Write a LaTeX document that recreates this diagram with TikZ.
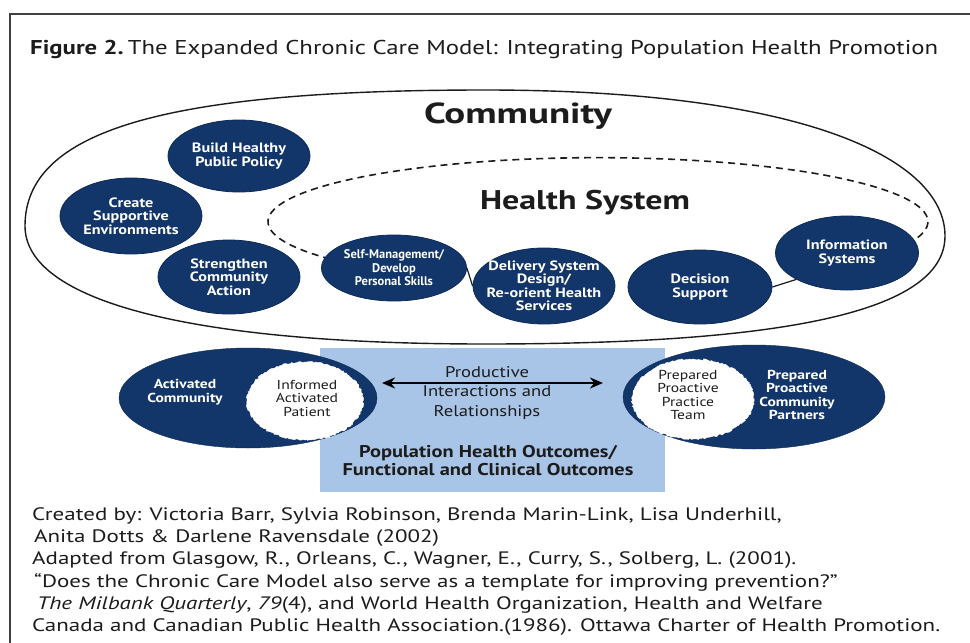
\documentclass[tikz,border=0pt]{standalone}
\usepackage{fontspec}
\usepackage{graphicx}
\setmainfont{PT Sans}
\newfontfamily\wfont[FakeStretch=1.2]{PT Sans}
\usetikzlibrary{shapes.geometric,arrows.meta,decorations.pathmorphing}
\definecolor{navy}{RGB}{18,54,106}
\definecolor{lblue}{RGB}{168,196,230}
\definecolor{ink}{RGB}{28,28,28}
\newcommand{\wline}[2]{\resizebox{#1pt}{\height}{#2}}
\newcommand{\footfont}{\fontsize{18}{22}\selectfont}
\newlength{\lastLineW}
\begin{document}
\settowidth{\lastLineW}{\footfont Canada and Canadian Public Health Association.(1986). Ottawa Charter of Health Promotion.}%
\pgfmathsetmacro{\fsx}{908/\lastLineW}%
\begin{tikzpicture}[x=1pt,y=-1pt,
  hnode/.style={ellipse, fill=navy, draw=navy!80!black, line width=0.8pt, inner sep=0pt},
  ntext/.style={align=center, inner sep=0pt, text=white, font=\wfont\fontsize{13.5}{13.5}\selectfont\bfseries},
  jag/.style={ellipse, fill=white, draw=white, inner sep=0pt, decorate, decoration={random steps, segment length=1.6pt, amplitude=0.9pt}},
  jtext/.style={align=center, inner sep=0pt, text=ink, font=\wfont\fontsize{13}{13.5}\selectfont},
  wtext/.style={align=center, inner sep=0pt, text=white, font=\wfont\fontsize{13}{13.5}\selectfont\bfseries},
  ftext/.style={anchor=west, inner sep=0pt, text=ink, font=\footfont},
  outline/.style={draw=ink, line width=1.4pt},
  hsdash/.style={draw=ink, line width=1.6pt, dash pattern=on 7pt off 5pt},
  link/.style={draw=ink, line width=1.2pt},
  dblarrow/.style={{Stealth[length=13pt,width=11pt]}-{Stealth[length=13pt,width=11pt]}, line width=2.2pt, draw=black}
]
\useasboundingbox (0,0) rectangle (970,643);
\fill[white] (0,0) rectangle (970,643);
% frame
\draw[line width=2.5pt, black!75] (995,14) -- (10,14) -- (10,670);
% title
\node[anchor=west, inner sep=0pt, text=ink, font=\fontsize{20}{24}\selectfont] (title) at (30,49)
  {\wline{908}{\textbf{Figure 2.}\,The Expanded Chronic Care Model: Integrating Population Health Promotion}};
% community outline
\draw[outline] (25,226) .. controls (25,131) and (163,90) .. (485,90)
  .. controls (807,90) and (945,160) .. (945,236)
  .. controls (945,312) and (784,344) .. (485,344)
  .. controls (186,344) and (25,300) .. (25,226) -- cycle;
\node[font=\fontsize{29}{30}\selectfont\bfseries, text=ink, inner sep=0pt] (community) at (518,116) {\wline{188}{Community}};
% health system dashed outline
\draw[hsdash] (330,259) arc[start angle=144.3, end angle=378, x radius=330, y radius=64];
\node[font=\fontsize{27}{28}\selectfont\bfseries, text=ink, inner sep=0pt] (hs) at (585,203) {\wline{210}{Health System}};
% navy nodes
\node[hnode, minimum width=142pt, minimum height=72pt] (bhpp) at (239,156) {};
\node[ntext] at (bhpp) {Build Healthy\\Public Policy};
\node[hnode, minimum width=142pt, minimum height=76pt] (cse) at (131,216) {};
\node[ntext] at (cse) {Create\\Supportive\\Environments};
\node[hnode, minimum width=142pt, minimum height=74pt] (sca) at (229,277) {};
\node[ntext] at (sca) {Strengthen\\Community\\Action};
\node[hnode, minimum width=145pt, minimum height=66pt] (smd) at (394,268) {};
\node[ntext, font=\fontsize{12.5}{13.5}\selectfont\bfseries] at (smd) {Self-Management/\\Develop\\Personal Skills};
\node[hnode, minimum width=142pt, minimum height=76pt] (dsd) at (544,286) {};
\node[ntext] at (dsd) {Delivery System\\Design/\\Re-orient Health\\Services};
\node[hnode, minimum width=144pt, minimum height=74pt] (dec) at (700,287) {};
\node[ntext] at (dec) {Decision\\Support};
\node[hnode, minimum width=143pt, minimum height=74pt] (info) at (847,253) {};
\node[ntext] at (info) {Information\\Systems};
\draw[link] (smd.east) -- (dsd.west);
\draw[link] (dec.east) -- (info.south west);
% outcomes box
\node[fill=lblue, minimum width=345pt, minimum height=144pt, inner sep=0pt] (box) at (492.5,420) {};
\node[align=center, inner sep=0pt, text=ink, font=\wfont\fontsize{15.5}{19.5}\selectfont] (pir) at (487,393) {Productive\\Interactions and\\Relationships};
\node[align=center, inner sep=0pt, text=ink, font=\wfont\fontsize{17}{18}\selectfont\bfseries] (pho) at (488,461) {Population Health Outcomes/\\Functional and Clinical Outcomes};
% left bottom ellipse
\node[ellipse, fill=navy, draw=navy!80!black, minimum width=258pt, minimum height=100pt, inner sep=0pt] (ac) at (248,398) {};
\node[jag, minimum width=116pt, minimum height=78pt] (iap) at (305,401) {};
\node[wtext] (actext) at (185,392) {Activated\\Community};
\node[jtext] (iaptext) at (307,398) {Informed\\Activated\\Patient};
% right bottom ellipse
\node[ellipse, fill=navy, draw=navy!80!black, minimum width=262pt, minimum height=104pt, inner sep=0pt] (pcp) at (754,397) {};
\node[jag, minimum width=122pt, minimum height=80pt] (ppt) at (693,399) {};
\node[jtext] (ppttext) at (688,395) {Prepared\\Proactive\\Practice\\Team};
\node[wtext] (pcptext) at (797,395) {Prepared\\Proactive\\Community\\Partners};
% arrow
\coordinate (la) at (382,383);
\coordinate (ra) at (603,383);
\draw[dblarrow] (la) -- (ra);
% footer
\node[ftext] (f1) at (32,516) {\scalebox{\fsx}[1]{Created by: Victoria Barr, Sylvia Robinson, Brenda Marin-Link, Lisa Underhill,}};
\node[ftext] (f2) at (34,538) {\scalebox{\fsx}[1]{Anita Dotts \& Darlene Ravensdale (2002)}};
\node[ftext] (f3) at (32,560) {\scalebox{\fsx}[1]{Adapted from Glasgow, R., Orleans, C., Wagner, E., Curry, S., Solberg, L. (2001).}};
\node[ftext] (f4) at (34,582) {\scalebox{\fsx}[1]{``Does the Chronic Care Model also serve as a template for improving prevention?''}};
\node[ftext] (f5) at (37,605) {\scalebox{\fsx}[1]{\textit{The Milbank Quarterly}, \textit{79}(4), and World Health Organization, Health and Welfare}};
\node[ftext] (f6) at (32,627) {\scalebox{\fsx}[1]{Canada and Canadian Public Health Association.(1986). Ottawa Charter of Health Promotion.}};
\end{tikzpicture}
\end{document}
